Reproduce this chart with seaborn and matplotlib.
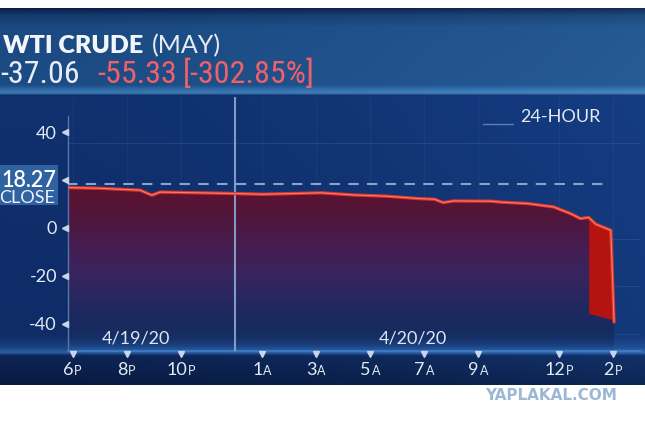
import numpy as np
import matplotlib
matplotlib.use("Agg")
import matplotlib.pyplot as plt
import matplotlib.colors as mcolors
from matplotlib import font_manager
from matplotlib.colors import LinearSegmentedColormap
from matplotlib.patches import Rectangle
import seaborn as sns

# ---- data (hours after 6 PM on 4/19/20) ----
hours = [-0.2, 1.0, 2.5, 2.93, 3.24, 4.7, 5.6, 7.05, 9.2, 10.4, 11.6, 12.8, 13.4,
         13.72, 14.1, 15.5, 15.85, 16.85, 17.8, 18.43, 18.8, 19.1, 19.36, 19.66,
         19.92, 20.04]
price = [16.9, 16.6, 15.8, 13.7, 15.0, 14.7, 14.5, 14.1, 14.7, 13.8, 13.3, 12.3, 12.0,
         10.6, 11.3, 11.2, 10.8, 10.2, 8.8, 6.0, 3.9, 4.4, 1.6, 0.2,
         -1.0, -39.4]
# solid red block drawn by the feed at the very end
drop_floor = [-35.8, -36.5, -37.4, -38.2, -39.4]

close_price = 18.27
last_txt = "-37.06"
chg_txt = "-55.33"
pct_txt = "[-302.85%]"

tick_hours = [0, 2, 4, 7, 9, 11, 13, 15, 18, 20]
tick_nums = ["6", "8", "10", "1", "3", "5", "7", "9", "12", "2"]
tick_sfx = ["P", "P", "P", "A", "A", "A", "A", "A", "P", "P"]
ytick_vals = [40, 0, -20, -40]
date_labels = ["4/19/20", "4/20/20"]
date_hours = [2.35, 12.6]
midnight = 6

YMIN, YMAX = -51.3, 54.8
XMIN, XMAX = -0.17, 21.0


def ramp(stops, n):
    pos = [p for p, _ in stops]
    rgb = np.array([mcolors.to_rgb(c) for _, c in stops])
    t = np.linspace(0, 1, n)
    return np.stack([np.interp(t, pos, rgb[:, k]) for k in range(3)], axis=1)


sns.set_theme(style="dark")
plt.rcParams['font.family'] = ['Lato', 'DejaVu Sans']

# a narrow face for the big quote numbers, if one is installed
installed = {f.name for f in font_manager.fontManager.ttflist}
narrow_fam, quote_size = ['Lato', 'DejaVu Sans'], 19
for cand in ["Liberation Sans Narrow", "Roboto Condensed", "Open Sans Condensed"]:
    if cand in installed:
        narrow_fam, quote_size = [cand, 'DejaVu Sans'], 23
        break

fig = plt.figure(figsize=(6.45, 4.26), dpi=100)
fig.patch.set_facecolor("white")

# background in pixel coords
bg = fig.add_axes([0, 0, 1, 1], zorder=0)
bg.set_xlim(0, 645)
bg.set_ylim(426, 0)
bg.axis("off")

panel_v = ramp([(0, "#10306e"), (0.83, "#0e2c66"), (0.87, "#1a417e"),
                (0.888, "#2a5ea4"), (0.9, "#0d2454"), (1, "#081a40")], 288)
lift = np.linspace(0, 1, 645) ** 1.5
panel = panel_v[:, None, :] + lift[None, :, None] * np.array([0.02, 0.05, 0.08])[None, None, :]
bg.imshow(np.clip(panel, 0, 1), extent=[0, 645, 385, 96], aspect="auto", zorder=0)

head_v = ramp([(0, "#0a1f48"), (0.08, "#143a6c"), (0.22, "#1b4a82"), (0.88, "#1d4c84"),
               (0.93, "#2f6aa6"), (0.97, "#3a78b4"), (1, "#0f2e66")], 88)
head = head_v[:, None, :] + lift[None, :, None] * np.array([0.04, 0.06, 0.07])[None, None, :]
bg.imshow(np.clip(head, 0, 1), extent=[0, 645, 96, 8], aspect="auto", zorder=0)

# main chart
ax = fig.add_axes([68 / 645, 75.5 / 426, 572 / 645, 253.5 / 426], zorder=2)
ax.set_facecolor("none")
ax.set_xlim(XMIN, XMAX)
ax.set_ylim(YMIN, YMAX)

for y in ytick_vals:
    ax.axhline(y - 4.5, color="#4a78b8", lw=0.8, alpha=0.25, zorder=1)
for h in tick_hours:
    ax.axvline(h, color="#6a8cc0", lw=0.6, alpha=0.12, zorder=1)

fill_cmap = LinearSegmentedColormap.from_list("fill", [
    (0.0, "#24579c"), (0.025, "#1b4080"), (0.07, "#152f66"), (0.14, "#172a5e"),
    (0.28, "#23285f"), (0.45, "#38245f"), (0.63, "#461d50"), (0.77, "#4f173f"),
    (0.91, "#581333"), (1.0, "#5e1230")])
poly = ax.fill_between(hours, price, YMIN, facecolor="none", edgecolor="none")
grad = np.linspace(0, 1, 256)[:, None]
im = ax.imshow(grad, extent=[XMIN, XMAX, YMIN, 18], origin="lower", aspect="auto",
               cmap=fill_cmap, zorder=2)
im.set_clip_path(poly.get_paths()[0], transform=ax.transData)

ax.fill_between(hours[-5:], price[-5:], drop_floor, color="#b3140f", lw=0, zorder=3)

ax.hlines(close_price, hours[0], hours[-3], colors="#86a4cc",
          linestyles=(0, (5, 4)), lw=1.5, zorder=3)
ax.axvline(midnight, color="#8aa8d0", lw=1.5, alpha=0.9, zorder=4)

sns.lineplot(x=hours, y=price, ax=ax, color="#d9342b", lw=2.4, zorder=5)
sns.lineplot(x=hours, y=price, ax=ax, color="#ff7a66", lw=0.8, zorder=6)

for s in ["top", "right"]:
    ax.spines[s].set_visible(False)
ax.spines["left"].set_color("#5377ae")
ax.spines["left"].set_linewidth(1.0)
ax.spines["left"].set_bounds(YMIN, 47)
ax.spines["bottom"].set_color("#3f7cc4")
ax.spines["bottom"].set_linewidth(1.3)

ax.set_yticks(ytick_vals)
ax.set_yticklabels([str(v) for v in ytick_vals], color="#e3eaf4", fontsize=13)
ax.tick_params(axis="y", length=0, pad=8)
ax.set_xticks(tick_hours)
ax.set_xticklabels([""] * len(tick_hours))
ax.tick_params(axis="x", length=0)
ax.grid(False)

ax.plot([-0.006] * (len(ytick_vals) + 1), ytick_vals + [close_price + 2],
        transform=ax.get_yaxis_transform(), marker="<", ls="none", ms=4.5,
        color="#c8d6ea", clip_on=False, zorder=7)
ax.plot(tick_hours, [-0.012] * len(tick_hours), transform=ax.get_xaxis_transform(),
        marker="v", ls="none", ms=5, color="#c8d6ea", clip_on=False, zorder=7)

for h, n, s in zip(tick_hours, tick_nums, tick_sfx):
    shift = (7.4 * len(n) - 6.0) / 2
    ax.annotate(n, (h, -0.098), xycoords=ax.get_xaxis_transform(), xytext=(shift, 0),
                textcoords="offset points", ha="right", va="baseline",
                fontsize=13, color="#e3eaf4", annotation_clip=False)
    ax.annotate(s, (h, -0.098), xycoords=ax.get_xaxis_transform(), xytext=(shift + 0.5, 0),
                textcoords="offset points", ha="left", va="baseline",
                fontsize=9, color="#e3eaf4", annotation_clip=False)

for d, h in zip(date_labels, date_hours):
    ax.text(h, 0.047, d, transform=ax.get_xaxis_transform(), ha="center", va="center",
            fontsize=13, color="#dce6f2", zorder=7)

# overlay texts in pixel coords
ov = fig.add_axes([0, 0, 1, 1], zorder=5)
ov.set_xlim(0, 645)
ov.set_ylim(426, 0)
ov.axis("off")

ov.text(3, 53, "WTI CRUDE", fontsize=18, fontweight="heavy", color="#f2f5fa", va="baseline")
ov.text(152, 53, "(MAY)", fontsize=18, color="#e4ebf4", va="baseline")
ov.text(80, 83, last_txt, fontsize=quote_size, family=narrow_fam, color="#e9eef6",
        ha="right", va="baseline")
ov.text(97, 83, chg_txt, fontsize=quote_size, family=narrow_fam, color="#f0606a", va="baseline")
ov.text(183, 83, pct_txt, fontsize=quote_size, family=narrow_fam, color="#f0606a", va="baseline")

ov.add_patch(Rectangle((0, 165), 58, 40, facecolor="#2f62a0", edgecolor="none", zorder=1))
ov.text(56, 187, f"{close_price:.2f}", fontsize=15.5, fontweight="semibold", color="white",
        ha="right", va="baseline", zorder=2)
ov.text(55, 203, "CLOSE", fontsize=13, color="#eef3fa",
        ha="right", va="baseline", zorder=2)

ov.plot([483, 513], [124, 124], color="#5a7fb5", lw=1)
ov.text(520, 117, "24-HOUR", fontsize=13, color="#e3eaf4", va="center")

ov.text(551, 396, "YAPLAKAL.COM", fontsize=11, fontweight="bold", family="DejaVu Sans",
        color="#9db8d4", ha="center", va="center")

fig.savefig("out.png", dpi=100, facecolor=fig.get_facecolor())
